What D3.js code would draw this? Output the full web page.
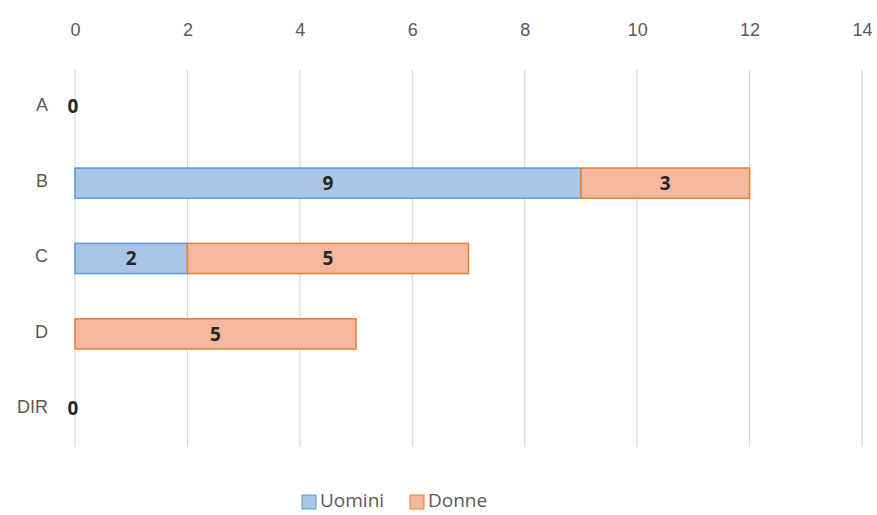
<!DOCTYPE html>
<html>
<head>
<meta charset="utf-8">
<script src="https://cdn.jsdelivr.net/npm/d3@7"></script>
<style>
  body { margin: 0; background: #fff; }
  svg { font-family: "Open Sans", "Noto Sans", sans-serif; }
</style>
</head>
<body>
<svg width="877" height="515"></svg>
<script>
// chart data
var categories = ["A", "B", "C", "D", "DIR"];
var uomini = [0, 9, 2, 0, 0];
var donne = [0, 3, 5, 5, 0];
var seriesNames = ["Uomini", "Donne"];
var xTicks = [0, 2, 4, 6, 8, 10, 12, 14];

var svg = d3.select("svg");
var fills = ["#a9c5e7", "#f5b89d"];
var strokes = ["#5b9bd5", "#ed7d31"];

var x = d3.scaleLinear().domain([0, 14]).range([75, 862]);
var y = d3.scaleBand().domain(categories).range([70, 447]).paddingInner(0.6).paddingOuter(0.3);

var rows = categories.map(function (c, i) {
    return { cat: c, Uomini: uomini[i], Donne: donne[i] };
});
var stacked = d3.stack().keys(seriesNames)(rows);

// vertical gridlines
svg.append("g")
    .selectAll("line")
    .data(xTicks)
    .enter().append("line")
    .attr("x1", function (d) { return x(d); })
    .attr("x2", function (d) { return x(d); })
    .attr("y1", 70)
    .attr("y2", 447)
    .attr("stroke", "#d9d9d9")
    .attr("stroke-width", 1.2);

// top axis labels
var xAxis = svg.append("g")
    .attr("transform", "translate(0,30)")
    .call(d3.axisTop(x).tickValues(xTicks).tickSize(0).tickPadding(0));
xAxis.select(".domain").remove();
xAxis.selectAll("text")
    .attr("dy", "0.35em")
    .attr("fill", "#595959")
    .style("font-size", "18px");

// category labels
var yAxis = svg.append("g")
    .attr("transform", "translate(48,-2)")
    .call(d3.axisLeft(y).tickSize(0).tickPadding(0));
yAxis.select(".domain").remove();
yAxis.selectAll("text")
    .attr("fill", "#595959")
    .style("font-size", "18px");

// bars
var layers = svg.selectAll(".layer")
    .data(stacked)
    .enter().append("g")
    .attr("class", "layer");

layers.selectAll("rect")
    .data(function (s, i) { return s.map(function (d) { d.idx = i; return d; }); })
    .enter().filter(function (d) { return d[1] - d[0] > 0; })
    .append("rect")
    .attr("x", function (d) { return x(d[0]); })
    .attr("y", function (d) { return y(d.data.cat); })
    .attr("width", function (d) { return x(d[1]) - x(d[0]); })
    .attr("height", y.bandwidth())
    .attr("fill", function (d) { return fills[d.idx]; })
    .attr("stroke", function (d) { return strokes[d.idx]; })
    .attr("stroke-width", 1.5);

// data labels
layers.selectAll("text")
    .data(function (s) { return s; })
    .enter().filter(function (d) { return d[1] - d[0] > 0; })
    .append("text")
    .attr("x", function (d) { return (x(d[0]) + x(d[1])) / 2; })
    .attr("y", function (d) { return y(d.data.cat) + y.bandwidth() / 2; })
    .attr("dy", "0.35em")
    .attr("text-anchor", "middle")
    .attr("fill", "#262626")
    .style("font-size", "19px")
    .style("font-weight", "bold")
    .text(function (d) { return d[1] - d[0]; });

// zero labels for empty rows
svg.append("g")
    .selectAll("text")
    .data(rows.filter(function (r) { return r.Uomini + r.Donne === 0; }))
    .enter().append("text")
    .attr("x", x(0) - 2)
    .attr("y", function (r) { return y(r.cat) + y.bandwidth() / 2 - 1; })
    .attr("dy", "0.35em")
    .attr("text-anchor", "middle")
    .attr("fill", "#262626")
    .style("font-size", "19px")
    .style("font-weight", "bold")
    .text("0");

// legend
var legend = svg.append("g")
    .selectAll("g")
    .data(seriesNames)
    .enter().append("g")
    .attr("transform", function (d, i) { return "translate(" + (i === 0 ? 302 : 410) + ",495)"; });
legend.append("rect")
    .attr("width", 14)
    .attr("height", 14)
    .attr("fill", function (d, i) { return fills[i]; })
    .attr("stroke", function (d, i) { return strokes[i]; });
legend.append("text")
    .attr("x", 18)
    .attr("y", 12)
    .attr("fill", "#595959")
    .style("font-size", "19px")
    .text(function (d) { return d; });
</script>
</body>
</html>
